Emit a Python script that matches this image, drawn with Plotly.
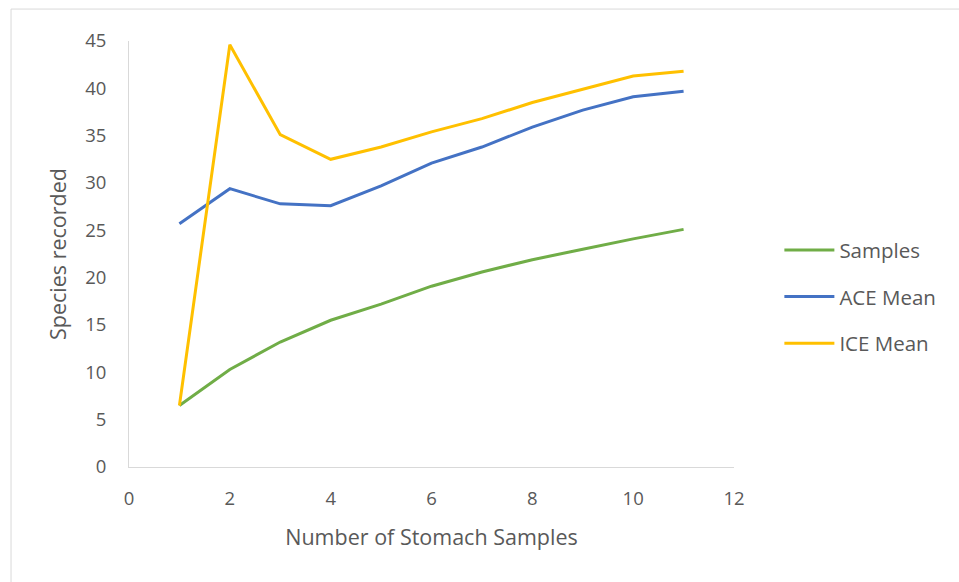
import plotly.graph_objects as go

# Species accumulation by number of stomach samples
n_samples = [1, 2, 3, 4, 5, 6, 7, 8, 9, 10, 11]
samples = [6.5, 10.3, 13.2, 15.5, 17.2, 19.1, 20.6, 21.9, 23.0, 24.1, 25.1]
ace_mean = [25.7, 29.4, 27.8, 27.6, 29.7, 32.1, 33.8, 35.9, 37.7, 39.1, 39.7]
ice_mean = [6.5, 44.6, 35.1, 32.5, 33.8, 35.4, 36.8, 38.5, 39.9, 41.3, 41.8]

series = [
    ("Samples", samples, "#70AD47"),
    ("ACE Mean", ace_mean, "#4472C4"),
    ("ICE Mean", ice_mean, "#FFC000"),
]

FONT = "Open Sans"
TEXT_GREY = "#595959"

fig = go.Figure()
for name, values, color in series:
    fig.add_trace(go.Scatter(
        x=n_samples, y=values, mode="lines", name=name,
        legendgroup=name,
        line=dict(color=color, width=3),
    ))

fig.update_layout(
    width=959, height=582,
    margin=dict(l=129, r=225, t=41, b=115),
    paper_bgcolor="white", plot_bgcolor="white",
    font=dict(family=FONT, color=TEXT_GREY, size=18),
    showlegend=True,
    legend=dict(
        x=1.075, xanchor="left", y=0.40, yanchor="middle",
        font=dict(family=FONT, size=20.5, color=TEXT_GREY),
        tracegroupgap=17, itemwidth=50,
        bgcolor="rgba(0,0,0,0)",
    ),
    xaxis=dict(
        range=[0, 12], dtick=2, tick0=0,
        showgrid=False, zeroline=False,
        showline=True, linecolor="#D9D9D9", linewidth=1,
        ticks="", ticklabelstandoff=15,
        tickfont=dict(family=FONT, size=18.5, color=TEXT_GREY),
        title=dict(text="Number of Stomach Samples", standoff=20,
                   font=dict(family=FONT, size=21.5, color=TEXT_GREY)),
    ),
    yaxis=dict(
        range=[0, 45], dtick=5, tick0=0,
        showgrid=False, zeroline=False,
        showline=True, linecolor="#D9D9D9", linewidth=1,
        ticks="", ticklabelstandoff=18,
        tickfont=dict(family=FONT, size=18.5, color=TEXT_GREY),
        title=dict(text="Species recorded", standoff=12,
                   font=dict(family=FONT, size=21.5, color=TEXT_GREY)),
    ),
    shapes=[
        # chart-area border (left and top edges fall inside the page)
        dict(type="rect", xref="paper", yref="paper",
             x0=-0.195, y0=-0.6, x1=1.6, y1=1.075,
             line=dict(color="#D9D9D9", width=1), layer="below"),
    ],
)

fig.write_html("out.html")
